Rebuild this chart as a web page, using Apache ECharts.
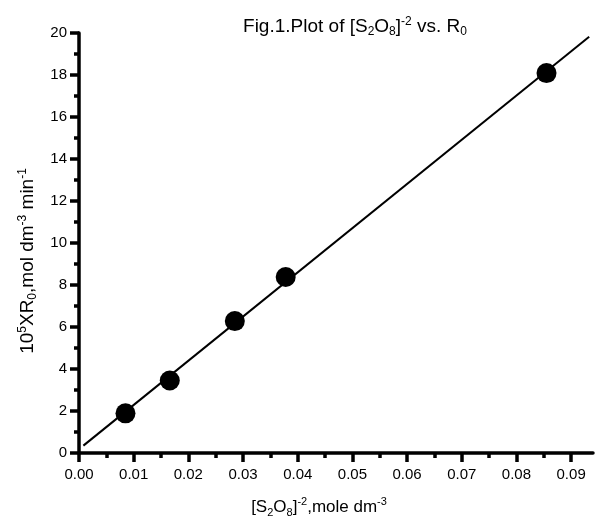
<!DOCTYPE html>
<html>
<head>
<meta charset="utf-8">
<script src="https://cdn.jsdelivr.net/npm/echarts@6/dist/echarts.min.js"></script>
<style>
html,body{margin:0;padding:0;background:#fff;}
#chart{width:597px;height:523px;}
</style>
</head>
<body>
<div id="chart"></div>
<script>
// ---- data ----
const concX = [0.0085, 0.0166, 0.0285, 0.0378, 0.0855];
const rateY = [1.89, 3.45, 6.28, 8.38, 18.09];
const fitX = [0.0008, 0.0933];
const fitY = [0.35, 19.82];
const xMajorTicks = [0, 0.01, 0.02, 0.03, 0.04, 0.05, 0.06, 0.07, 0.08, 0.09];
const xMinorTicks = [0.005, 0.015, 0.025, 0.035, 0.045, 0.055, 0.065, 0.075, 0.085];
const xMin = 0, xMax = 0.094;
const yMin = 0, yMax = 20, yStep = 2;

const FONT = 'Liberation Sans, Arial, sans-serif';
const richSet = (size) => ({
  n:   { fontSize: size, fontFamily: FONT, fontWeight: 'normal', color: '#000', lineHeight: 22, verticalAlign: 'middle' },
  sup: { fontSize: Math.round(size * 0.62), fontFamily: FONT, fontWeight: 'normal', color: '#000', lineHeight: 10, verticalAlign: 'top' },
  sub: { fontSize: Math.round(size * 0.62), fontFamily: FONT, fontWeight: 'normal', color: '#000', lineHeight: 10, verticalAlign: 'bottom' }
});

const chart = echarts.init(document.getElementById('chart'), null, { renderer: 'canvas' });
const black = '#000';

const option = {
  backgroundColor: '#fff',
  animation: false,
  title: {
    text: '{n|Fig.1.Plot of [S}{sub|2}{n|O}{sub|8}{n|]}{sup|-2}{n| vs. R}{sub|0}',
    left: 350,
    top: 11,
    textAlign: 'center',
    textStyle: { fontWeight: 'normal', rich: richSet(19) }
  },
  grid: { left: 79, right: 4, top: 33, bottom: 69, containLabel: false },
  xAxis: [
    {
      type: 'value', min: xMin, max: xMax,
      axisLine: { show: true, onZero: false, lineStyle: { color: black, width: 3.5 } },
      axisTick: { show: true, inside: false, length: 9, lineStyle: { color: black, width: 3.5 }, customValues: xMajorTicks },
      axisLabel: { show: true, margin: 14, fontSize: 15, fontFamily: FONT, color: black,
        customValues: xMajorTicks, formatter: v => v.toFixed(2) },
      splitLine: { show: false },
      name: '{n|[S}{sub|2}{n|O}{sub|8}{n|]}{sup|-2}{n|,mole dm}{sup|-3}',
      nameLocation: 'middle', nameGap: 43,
      nameTextStyle: { rich: richSet(17), padding: [0, 34, 0, 0] }
    },
    {
      type: 'value', min: xMin, max: xMax, gridIndex: 0, position: 'bottom',
      axisLine: { show: false, onZero: false },
      axisTick: { show: true, inside: false, length: 5, lineStyle: { color: black, width: 3.5 }, customValues: xMinorTicks },
      axisLabel: { show: false },
      splitLine: { show: false }
    }
  ],
  yAxis: {
    type: 'value', min: yMin, max: yMax, interval: yStep,
    axisLine: { show: true, onZero: false, lineStyle: { color: black, width: 3.5 } },
    axisTick: { show: true, inside: false, length: 9, lineStyle: { color: black, width: 3.5 } },
    minorTick: { show: true, splitNumber: 2, length: 5, lineStyle: { color: black, width: 3.5 } },
    axisLabel: { margin: 12, fontSize: 15, fontFamily: FONT, color: black },
    splitLine: { show: false },
    minorSplitLine: { show: false },
    name: '{n|10}{sup|5}{n|XR}{sub|0}{n|,mol dm}{sup|-3}{n| min}{sup|-1}',
    nameLocation: 'middle', nameGap: 40, nameRotate: 90,
    nameTextStyle: { rich: richSet(19), padding: [0, 36, 0, 0] }
  },
  series: [
    {
      type: 'line',
      data: fitX.map((x, i) => [x, fitY[i]]),
      showSymbol: false, symbol: 'none',
      lineStyle: { color: black, width: 2 },
      z: 2
    },
    {
      type: 'scatter',
      data: concX.map((x, i) => [x, rateY[i]]),
      symbol: 'circle', symbolSize: 20,
      itemStyle: { color: black, opacity: 1 },
      z: 3
    }
  ]
};
chart.setOption(option);
</script>
</body>
</html>
